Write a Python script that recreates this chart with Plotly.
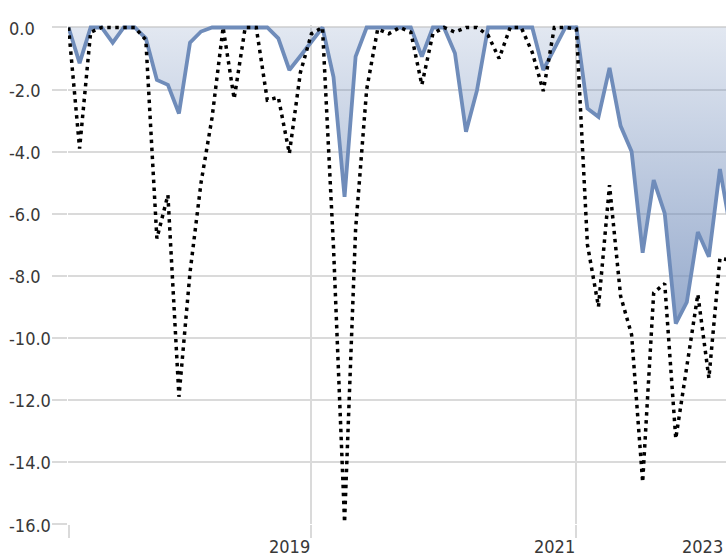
import plotly.graph_objects as go

# ---- data ----
months = [f"{2017 + (m + 2) // 12}-{(m + 2) % 12 + 1:02d}" for m in range(61)]

fund_drawdown = [
    0, -1.15, 0, 0, -0.49, 0, 0, -0.35, -1.69, -1.85,
    -2.77, -0.49, -0.13, 0, 0, 0, 0, 0, 0, -0.35,
    -1.37, -0.92, -0.46, 0, -1.6, -5.46, -0.94, 0, 0, 0,
    0, 0, -0.94, 0, 0, -0.83, -3.36, -2.02, 0, 0,
    0, 0, 0, -1.37, -0.68, 0, 0, -2.61, -2.88, -1.3,
    -3.17, -4.0, -7.26, -4.92, -5.99, -9.54, -8.85, -6.59, -7.39, -4.56,
    -6.6,
]

bench_drawdown = [
    0, -3.9, -0.15, 0, 0, 0, 0, -0.4, -6.8, -5.4,
    -11.9, -7.9, -5.0, -2.9, 0, -2.3, 0, 0, -2.34, -2.25,
    -4.06, -1.45, -0.2, 0, -7.1, -15.95, -6.5, -2.0, -0.05, -0.2,
    0, -0.15, -1.85, -0.2, 0, -0.15, 0, 0, -0.25, -1.0,
    0, 0, -0.8, -2.05, 0, 0, -0.05, -7.0, -9.0, -5.08,
    -8.65, -9.9, -14.65, -8.55, -8.25, -13.25, -11.0, -8.6, -11.3, -7.44,
    -7.5,
]

y_ticks = [0, -2, -4, -6, -8, -10, -12, -14, -16]
y_tick_labels = ["0.0", "-2.0", "-4.0", "-6.0", "-8.0", "-10.0", "-12.0", "-14.0", "-16.0"]

x_grid_months = [months[0], months[22], months[46]]
x_label_months = [months[20], months[44], months[58]]
x_labels = ["2019", "2021", "2023"]

# ---- styling ----
FONT = "DejaVu Sans Condensed, Roboto, sans-serif"
FSIZE = 18
GRID = "#dadada"
TEXT = "#383838"
L, R, T, B = 68, 0, 25, 33
W, H = 726, 557
plot_w = W - L - R
plot_h = H - T - B

fig = go.Figure()

fig.add_trace(go.Scatter(
    x=months, y=fund_drawdown, mode="lines",
    line=dict(color="#6f8cba", width=3.8),
    fill="tozeroy",
    fillgradient=dict(
        type="vertical",
        colorscale=[[0, "rgba(110,138,185,0.72)"], [1, "rgba(110,138,185,0.2)"]],
        start=min(fund_drawdown), stop=0,
    ),
    hoverinfo="skip", showlegend=False,
))

fig.add_trace(go.Scatter(
    x=months, y=bench_drawdown, mode="lines",
    line=dict(color="black", width=3.5, dash="3.5px,4.5px"),
    hoverinfo="skip", showlegend=False,
))

annotations = []
for v, t in zip(y_ticks, y_tick_labels):
    annotations.append(dict(
        xref="paper", x=(7 - L) / plot_w, xanchor="left",
        yref="y", y=v, yanchor="middle", yshift=-1,
        text=t, showarrow=False,
        font=dict(family=FONT, size=FSIZE, color=TEXT),
    ))
for i, (m, t) in enumerate(zip(x_label_months, x_labels)):
    last = i == len(x_labels) - 1
    ann = dict(
        yref="paper", y=(524 - 546) / plot_h, yanchor="middle",
        text=t, showarrow=False,
        font=dict(family=FONT, size=FSIZE, color=TEXT),
    )
    if last:
        # keep the last year label fully inside the picture
        ann.update(xref="paper", x=(725 - L) / plot_w, xanchor="right")
    else:
        ann.update(xref="x", x=m, xanchor="center")
    annotations.append(ann)

fig.update_layout(
    width=W, height=H,
    margin=dict(l=L, r=R, t=T, b=B, pad=0),
    paper_bgcolor="white", plot_bgcolor="white",
    showlegend=False, hovermode=False,
    annotations=annotations,
    xaxis=dict(
        type="category", range=[-0.05, 59.55],
        tickvals=x_grid_months, showticklabels=False,
        showgrid=True, gridcolor=GRID, gridwidth=2,
        ticks="outside", ticklen=13, tickwidth=2, tickcolor=GRID,
        zeroline=False, showline=False,
    ),
    yaxis=dict(
        range=[-16, 0.08],
        tickvals=y_ticks, showticklabels=False,
        showgrid=True, gridcolor=GRID, gridwidth=2,
        ticks="outside", ticklen=15, tickwidth=2, tickcolor=GRID,
        zeroline=False, showline=False,
    ),
)

fig.write_html("out.html", config={"displayModeBar": False},
               post_script="document.body.style.margin='0';")
